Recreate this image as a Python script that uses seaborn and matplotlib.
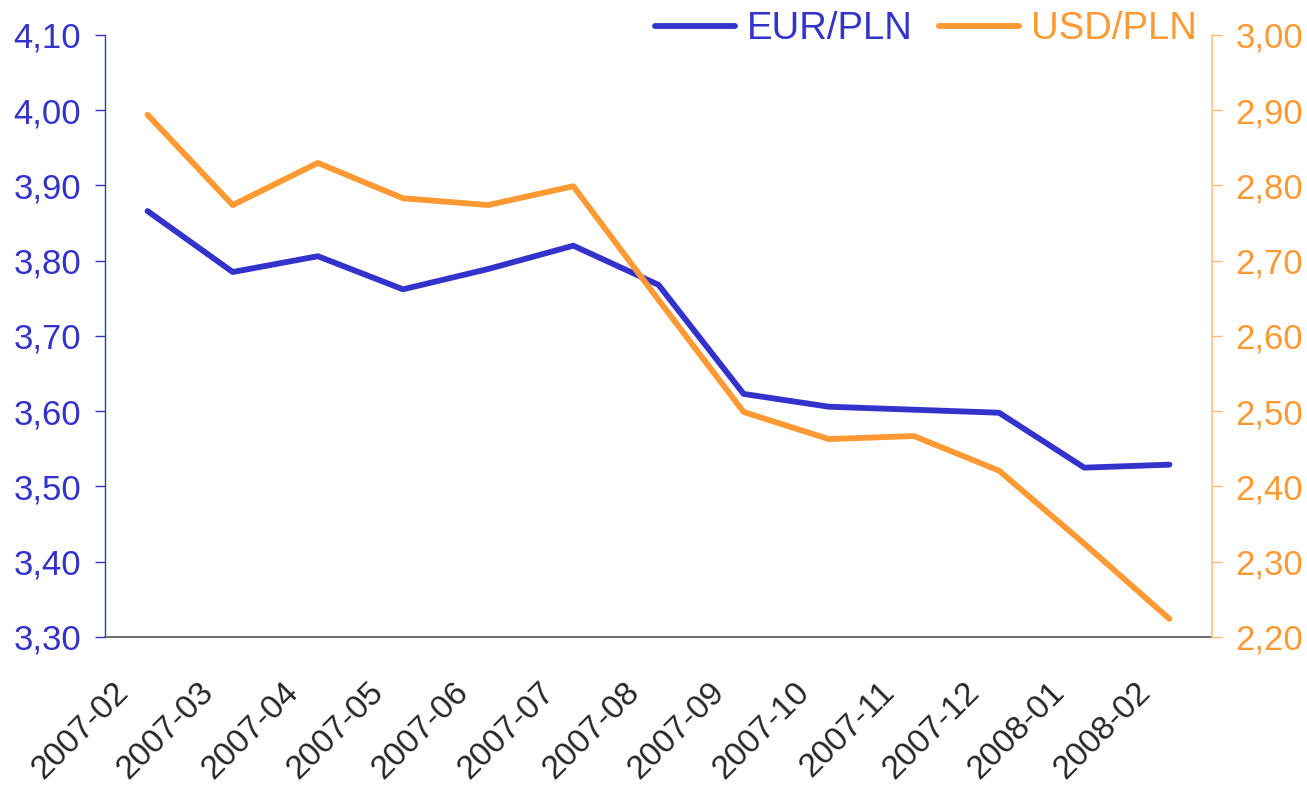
import numpy as np
import pandas as pd
import seaborn as sns
import matplotlib.pyplot as plt
import matplotlib.transforms as mtransforms
from matplotlib.ticker import FixedLocator, FuncFormatter

# dane
months = ['2007-02', '2007-03', '2007-04', '2007-05', '2007-06', '2007-07', '2007-08',
          '2007-09', '2007-10', '2007-11', '2007-12', '2008-01', '2008-02']
eur_pln = [3.866, 3.785, 3.806, 3.762, 3.789, 3.820, 3.768,
           3.623, 3.606, 3.602, 3.598, 3.525, 3.529]
usd_pln = [2.894, 2.774, 2.830, 2.783, 2.774, 2.799, 2.648,
           2.499, 2.463, 2.467, 2.421, 2.324, 2.224]
left_ticks = [3.30, 3.40, 3.50, 3.60, 3.70, 3.80, 3.90, 4.00, 4.10]
right_ticks = [2.20, 2.30, 2.40, 2.50, 2.60, 2.70, 2.80, 2.90, 3.00]

blue = '#3333CC'
orange = '#FF9933'

sns.set_style('white')
plt.rcParams['font.family'] = ['Liberation Sans', 'DejaVu Sans']

df = pd.DataFrame({'pos': np.arange(len(months)), 'month': months,
                   'EUR/PLN': eur_pln, 'USD/PLN': usd_pln})

fig = plt.figure(figsize=(13.07, 7.86), dpi=100)
ax = fig.add_axes([0.0803, 0.1896, 0.8470, 0.7659])
ax2 = ax.twinx()

sns.lineplot(data=df, x='pos', y='EUR/PLN', ax=ax, color=blue, linewidth=4.2, label='EUR/PLN', legend=False)
sns.lineplot(data=df, x='pos', y='USD/PLN', ax=ax2, color=orange, linewidth=4.2, label='USD/PLN', legend=False)

fmt = FuncFormatter(lambda v, p: f'{v:.2f}'.replace('.', ','))

ax.set_xlim(-0.5, len(months) - 0.5)
ax.set_ylim(3.30, 4.10)
ax2.set_ylim(2.20, 3.00)
ax.set_yticks(left_ticks)
ax2.set_yticks(right_ticks)
ax.yaxis.set_major_formatter(fmt)
ax2.yaxis.set_major_formatter(fmt)

# podziałki na granicach kategorii, etykiety w środku
ax.xaxis.set_major_locator(FixedLocator(np.arange(len(months) + 1) - 0.5))
ax.xaxis.set_major_formatter(FuncFormatter(lambda v, p: ''))
ax.set_xticks(np.arange(len(months)), minor=True)
ax.set_xticklabels(months, minor=True, rotation=45, ha='right', va='center',
                   rotation_mode='anchor', fontsize=24)
ax.tick_params(axis='x', which='minor', length=0, pad=24)
ax.tick_params(axis='x', which='major', length=7, width=1.2, color='#555555', direction='out')
shift = mtransforms.ScaledTranslation(-24 / 100, -17 / 100, fig.dpi_scale_trans)
for lab in ax.get_xticklabels(minor=True):
    lab.set_transform(lab.get_transform() + shift)

ax.set_xlabel('')
ax.set_ylabel('')
ax2.set_ylabel('')

ax.tick_params(axis='y', labelsize=25, labelcolor=blue, color=blue, length=7, width=1,
               direction='out', pad=10, left=True)
ax2.tick_params(axis='y', labelsize=25, labelcolor=orange, color='#FFB870', length=7, width=1,
                direction='out', pad=10, right=True)

for a in (ax, ax2):
    a.spines['top'].set_visible(False)
    a.grid(False)
ax.spines['right'].set_visible(False)
ax.spines['left'].set_color(blue)
ax.spines['left'].set_linewidth(1)
ax.spines['bottom'].set_color('#555555')
ax.spines['bottom'].set_linewidth(1.2)
ax2.spines['left'].set_visible(False)
ax2.spines['bottom'].set_visible(False)
ax2.spines['right'].set_color('#FFC080')
ax2.spines['right'].set_linewidth(1.2)

h1, l1 = ax.get_legend_handles_labels()
h2, l2 = ax2.get_legend_handles_labels()
leg = ax2.legend(h1 + h2, l1 + l2, loc='upper right', bbox_to_anchor=(1.0, 1.065), ncol=2,
                 frameon=False, fontsize=27.5, handlelength=2.1, handletextpad=0.3,
                 columnspacing=0.7, borderaxespad=0)
for t, c in zip(leg.get_texts(), (blue, orange)):
    t.set_color(c)
for ln in leg.get_lines():
    ln.set_solid_capstyle('round')

plt.savefig('out.png', dpi=100)
